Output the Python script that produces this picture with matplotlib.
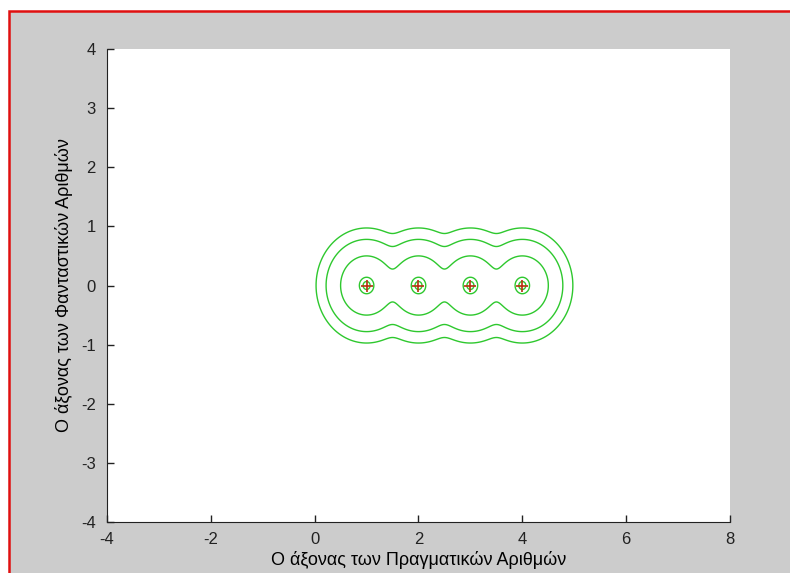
""" Contour lines around four points on the real axis (complex plane). """

import numpy as np
import matplotlib.pyplot as plt
from matplotlib.patches import Rectangle

# Points on the real axis and contour levels
roots = [1, 2, 3, 4]
spread = 9.0
levels = [0.0002, 0.0042, 0.105, 0.84, 0.96]

x_ticks = [-4, -2, 0, 2, 4, 6, 8]
y_ticks = [-4, -3, -2, -1, 0, 1, 2, 3, 4]

plt.rcParams['font.family'] = ['Liberation Sans', 'DejaVu Sans']
plt.rcParams['axes.unicode_minus'] = False

fig = plt.figure(figsize=(7.9, 5.73), dpi=100, facecolor='white')
# Grey window with red frame at left/top
fig.patches.append(Rectangle((8.5 / 790, -0.2), 1.2, 1.2 - 10.5 / 573,
                             transform=fig.transFigure, facecolor='#cccccc',
                             edgecolor='#e01010', linewidth=1.8, zorder=-1))

ax = fig.add_axes([107 / 790, 1 - 522 / 573, (730 - 107) / 790, (522 - 49) / 573])

# Field on a grid
xs = np.linspace(-0.6, 5.6, 700)
ys = np.linspace(-1.6, 1.6, 400)
X, Y = np.meshgrid(xs, ys)
Z = np.zeros_like(X)
for r in roots:
    Z += np.exp(-spread * ((X - r) ** 2 + Y ** 2))

ax.contour(X, Y, Z, levels=levels, colors='#2ec82e', linewidths=1.0)
ax.plot(roots, [0] * len(roots), '+', color='#b8300f', markersize=8, markeredgewidth=1.2)

ax.set_xlim(-4, 8)
ax.set_ylim(-4, 4)
ax.set_xticks(x_ticks)
ax.set_yticks(y_ticks)
ax.tick_params(direction='in', length=5, width=1, labelsize=12, colors='#222222')
ax.tick_params(axis='x', pad=7)
ax.tick_params(axis='y', pad=8)
for s in ['top', 'right']:
    ax.spines[s].set_visible(False)
for s in ['left', 'bottom']:
    ax.spines[s].set_color('#222222')

ax.set_xlabel('Ο άξονας των Πραγματικών Αριθμών', fontsize=13, labelpad=3)
ax.set_ylabel('Ο άξονας των Φανταστικών Αριθμών', fontsize=13, labelpad=6)

fig.savefig('out.png', dpi=100)
